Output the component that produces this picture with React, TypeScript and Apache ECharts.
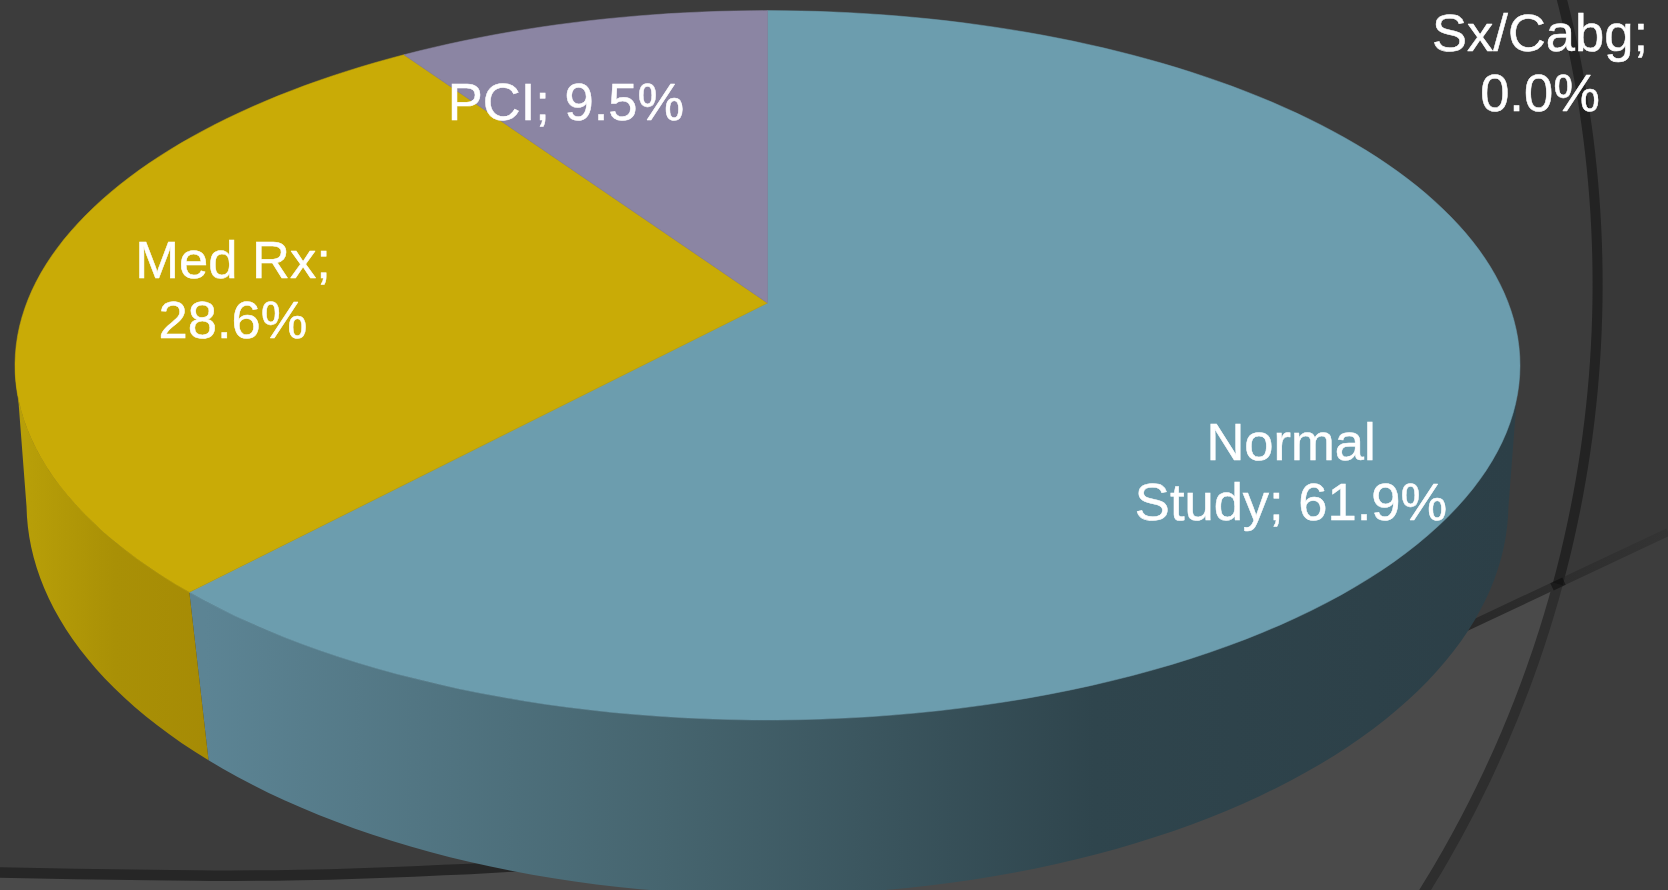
import React, { useEffect, useRef } from "react";
import * as echarts from "echarts";

// ---- data ----
const categories = ["Normal Study", "Med Rx", "PCI", "Sx/Cabg"];
const shares = [61.9, 28.6, 9.5, 0.0];
const labelBreaks = ["Normal\nStudy; ", "Med Rx;\n", "PCI; ", "Sx/Cabg;\n"];

// ---- styling and layout ----
const topColors = ["#6c9dae", "#c9ab06", "#8b85a3", "#8aa64a"];
const wallStops = [
  [{ offset: 0, color: "#5c8494" }, { offset: 0.35, color: "#46656f" }, { offset: 0.68, color: "#2f454d" }, { offset: 1, color: "#2c3f47" }],
  [{ offset: 0, color: "#b89f08" }, { offset: 0.5, color: "#a99006" }, { offset: 1, color: "#a68b05" }],
  [{ offset: 0, color: "#6b6780" }, { offset: 1, color: "#6b6780" }],
  [{ offset: 0, color: "#6b8030" }, { offset: 1, color: "#6b8030" }],
];
const wallRanges = [[205, 1512], [25, 206], [0, 1], [0, 1]];
const labelPositions = [[1291, 471], [233, 289], [566, 101], [1540, 62]];

const TOP = { cx: 767.5, cy: 365.3, a: 752.5, b: 354.7, t: 0.1756 };
const RIM = { cx: 767.5, cy: 503, a: 741, b: 392, t: 0.148 };

function project(e: typeof TOP, deg: number): number[] {
  const r = (deg * Math.PI) / 180;
  const u = Math.sin(r);
  const v = Math.cos(r);
  const d = 1 + e.t * v;
  return [e.cx + (e.a * u * Math.sqrt(1 - e.t * e.t)) / d, e.cy - (e.b * (v + e.t)) / d];
}

function sweep(e: typeof TOP, from: number, to: number): number[][] {
  const n = Math.max(2, Math.ceil(Math.abs(to - from) / 1.5));
  const pts: number[][] = [];
  for (let i = 0; i <= n; i++) pts.push(project(e, from + ((to - from) * i) / n));
  return pts;
}

function sliceAngles(i: number): number[] {
  let start = 0;
  for (let k = 0; k < i; k++) start += shares[k];
  return [start * 3.6, (start + shares[i]) * 3.6];
}

const RING = { cx: 447, cy: 284, r: 1150.6 };
function ringPts(y0: number, y1: number): number[][] {
  const pts: number[][] = [];
  for (let i = 0; i <= 40; i++) {
    const y = y0 + ((y1 - y0) * i) / 40;
    pts.push([RING.cx + Math.sqrt(RING.r * RING.r - (y - RING.cy) * (y - RING.cy)), y]);
  }
  return pts;
}

function buildOption() {
  const lightPoly = [
    [0, 873], [150, 875], [300, 875], [470, 869], [1000, 700], [1475, 623], [1558, 584],
    ...ringPts(584, 890).slice(1), [0, 890],
  ];
  const rightUpper = [...ringPts(0, 584), [1668, 532], [1668, 0]];
  const rightLower = [...ringPts(584, 890), [1668, 890], [1668, 532]];
  const data = shares.map((v) => [v]);
  return {
    animation: false,
    backgroundColor: "#3c3c3c",
    graphic: {
      elements: [
        { type: "polygon", z: 0, silent: true, shape: { points: rightUpper }, style: { fill: "#383838" } },
        { type: "polygon", z: 0, silent: true, shape: { points: rightLower }, style: { fill: "#3d3d3d" } },
        { type: "polygon", z: 0, silent: true, shape: { points: lightPoly }, style: { fill: "#4a4a4a" } },
        {
          type: "line", z: 1, silent: true,
          shape: { x1: 1440, y1: 639.5, x2: 1668, y2: 532 },
          style: {
            lineWidth: 8,
            stroke: new echarts.graphic.LinearGradient(1440, 0, 1668, 0, [
              { offset: 0, color: "#272727" },
              { offset: 1, color: "#343434" },
            ], true),
          },
        },
        {
          type: "polyline", z: 1, silent: true,
          shape: { points: [[-5, 872.5], [150, 875], [300, 875], [470, 869], [520, 866]], smooth: 0.5 },
          style: { fill: "none", stroke: "#262626", lineWidth: 10.5 },
        },
        {
          type: "polyline", z: 1, silent: true,
          shape: { points: ringPts(-10, 584) },
          style: { fill: "none", stroke: "#232323", lineWidth: 10 },
        },
        {
          type: "polyline", z: 1, silent: true,
          shape: { points: ringPts(584, 900) },
          style: { fill: "none", stroke: "#2e2e2e", lineWidth: 10 },
        },
        {
          type: "line", z: 1, silent: true,
          shape: { x1: 1552, y1: 586.8, x2: 1564, y2: 581.2 },
          style: { lineWidth: 8, stroke: "rgba(0,0,0,0.4)" },
        },
      ],
    },
    series: [
      {
        type: "custom", name: "walls", coordinateSystem: "none", z: 2, silent: true, data,
        renderItem: (params: any, api: any) => {
          const v = api.value(0);
          const [a0, a1] = sliceAngles(params.dataIndex);
          const from = Math.max(a0, 99);
          const to = Math.min(a1, 261);
          if (!(v > 0) || to <= from) return { type: "group", children: [] };
          const [gx0, gx1] = wallRanges[params.dataIndex];
          const points = [...sweep(TOP, from, to), ...sweep(RIM, from, to).reverse()];
          return {
            type: "polygon",
            shape: { points },
            style: { fill: new echarts.graphic.LinearGradient(gx0, 0, gx1, 0, wallStops[params.dataIndex], true) },
          };
        },
      },
      {
        type: "custom", name: "tops", coordinateSystem: "none", z: 3, silent: true, data,
        renderItem: (params: any, api: any) => {
          const v = api.value(0);
          if (!(v > 0)) return { type: "group", children: [] };
          const [a0, a1] = sliceAngles(params.dataIndex);
          const apex = [TOP.cx, TOP.cy - TOP.b * TOP.t];
          const fill = topColors[params.dataIndex];
          return {
            type: "polygon",
            shape: { points: [apex, ...sweep(TOP, a0, a1)] },
            style: { fill, stroke: fill, lineWidth: 0.5 },
          };
        },
      },
      {
        type: "custom", name: "labels", coordinateSystem: "none", z: 4, silent: true, data,
        renderItem: (params: any, api: any) => {
          const i = params.dataIndex;
          const [x, y] = labelPositions[i];
          return {
            type: "text",
            x, y,
            style: {
              text: labelBreaks[i] + api.value(0).toFixed(1) + "%",
              fill: "#ffffff",
              stroke: "#ffffff",
              lineWidth: 0.5,
              font: '52.5px "Liberation Sans", Arial, sans-serif',
              lineHeight: 60,
              align: "center",
              verticalAlign: "middle",
            },
          };
        },
      },
    ],
  };
}

export default function App() {
  const ref = useRef<HTMLDivElement>(null);
  useEffect(() => {
    document.body.style.margin = "0";
    document.body.style.background = "#3c3c3c";
    document.body.style.overflow = "hidden";
    const chart = echarts.init(ref.current!, undefined, { renderer: "svg" });
    chart.setOption(buildOption() as any);
    return () => chart.dispose();
  }, []);
  return (
    <div
      ref={ref}
      aria-label={categories.join(", ")}
      style={{ width: 1668, height: 890, filter: "blur(0.5px)" }}
    />
  );
}
